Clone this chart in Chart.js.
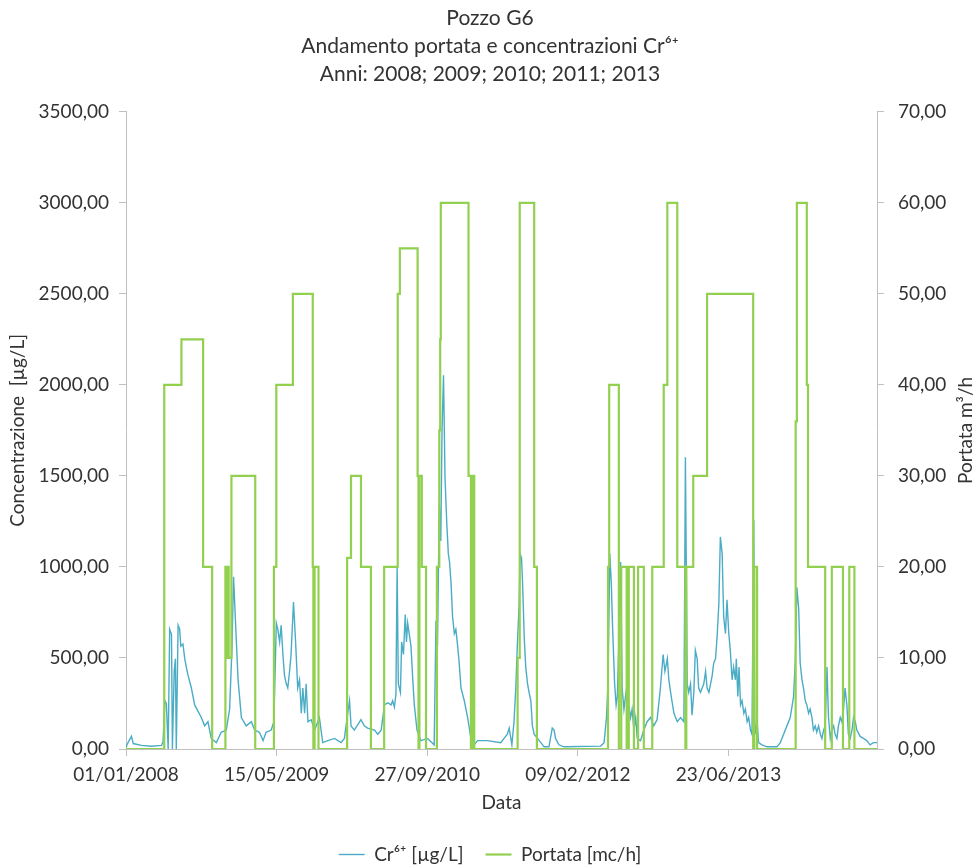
<!DOCTYPE html>
<html>
<head>
<meta charset="utf-8">
<script src="https://cdn.jsdelivr.net/npm/chart.js@4"></script>
<style>
  body { margin: 0; background: #fff; }
</style>
</head>
<body>
<canvas id="chart-g6" width="980" height="866"></canvas>
<script>
// ================== dati =================
// giorni dal 01/01/2008
const crGiorni = [
  0, 2, 18, 24, 51, 84, 118, 123, 129, 134, 140, 145, 151, 154, 160, 164, 167, 173, 178, 182, 189, 195, 203, 206, 217, 228, 250, 261, 272, 283, 300, 316, 333, 344, 352, 357, 364, 372, 383, 399, 416, 427, 443, 455, 465, 482, 491, 499, 504, 510, 515, 521, 526, 532, 537, 543, 548, 556, 563, 570, 576, 582, 587, 593, 598, 604,
  615, 626, 642, 653, 670, 692, 714, 725, 734, 742, 747, 758, 780, 791, 802, 825, 836, 847, 858, 869, 880, 885, 891, 896, 900, 904, 911, 915, 921, 927, 931, 935, 941, 946, 952, 957, 966, 979, 1001, 1023, 1029, 1034, 1040, 1045, 1049, 1054, 1059, 1065, 1070, 1074, 1079, 1084, 1090, 1095, 1101, 1106, 1112, 1123, 1134, 1145, 1156, 1167, 1200, 1244,
  1255, 1266, 1272, 1281, 1288, 1294, 1299, 1305, 1308, 1313, 1317, 1322, 1327, 1333, 1338, 1344, 1349, 1355, 1366, 1377, 1388, 1404, 1415, 1421, 1426, 1437, 1454, 1576, 1587, 1595, 1600, 1606, 1611, 1615, 1622, 1627, 1631, 1636, 1642, 1647, 1653, 1658, 1664, 1669, 1675, 1680, 1686, 1692, 1697, 1708, 1719, 1730, 1741, 1752, 1763, 1774, 1783, 1789, 1797, 1802, 1810, 1819, 1830, 1841, 1852, 1857, 1863, 1868, 1874,
  1879, 1885, 1890, 1896, 1901, 1907, 1918, 1924, 1929, 1935, 1946, 1951, 1957, 1962, 1968, 1973, 1979, 1984, 1990, 1995, 2001, 2006, 2012, 2017, 2023, 2026, 2031, 2035, 2040, 2045, 2051, 2056, 2062, 2067, 2073, 2078, 2084, 2087, 2091, 2095, 2100, 2111, 2128, 2161, 2172, 2183, 2194, 2205, 2216, 2222, 2227, 2233, 2238, 2244, 2249, 2255, 2260, 2266, 2271, 2277, 2282, 2288, 2293, 2299, 2305, 2310, 2316, 2321, 2327, 2332, 2338, 2343, 2349, 2354, 2360, 2365, 2371, 2376, 2382, 2387, 2393, 2398, 2404, 2410, 2415, 2421, 2426, 2437, 2448, 2459, 2470, 2481, 2493
];
// Cr6+ [µg/L]
const crValori = [
  15, 20, 70, 30, 20, 15, 20, 40, 265, 250, 0, 657, 630, 0, 427, 496, 0, 680, 660, 565, 577, 496, 427, 404, 335, 242, 173, 127, 150, 58, 35, 92, 104, 219, 565, 946, 680, 380, 173, 127, 150, 104, 92, 46, 92, 104, 150, 692, 657, 588, 680, 519, 404, 358, 335, 427, 519, 807, 588, 335, 380, 196, 335, 196, 358, 150,
  161, 104, 173, 35, 46, 58, 35, 58, 173, 265, 127, 104, 161, 127, 115, 104, 81, 104, 242, 254, 242, 265, 231, 300, 1003, 358, 311, 588, 519, 738, 588, 692, 623, 565, 380, 242, 104, 46, 58, 23, 704, 565, 1350, 1142, 1742, 2053, 1488, 1234, 1073, 1027, 911, 727, 634, 657, 565, 473, 335, 265, 173, 58, 23, 46, 46, 35,
  58, 81, 115, 23, 150, 335, 565, 796, 1073, 1050, 888, 611, 450, 358, 311, 265, 127, 81, 58, 35, 12, 12, 115, 104, 58, 23, 12, 16, 35, 173, 358, 1073, 911, 680, 358, 242, 288, 588, 1027, 335, 219, 288, 358, 242, 173, 219, 104, 173, 58, 46, 104, 150, 173, 127, 161, 335, 519, 427, 496, 380, 288, 196, 150, 173, 150, 1603, 358, 311, 358,
  185, 311, 542, 496, 335, 311, 358, 427, 335, 311, 404, 473, 496, 611, 796, 1165, 1073, 727, 634, 819, 634, 542, 380, 450, 380, 496, 288, 450, 242, 265, 196, 219, 150, 173, 104, 81, 1257, 150, 81, 150, 35, 23, 12, 12, 35, 81, 127, 173, 288, 496, 888, 773, 473, 380, 335, 265, 242, 196, 219, 173, 104, 127, 92, 127, 81, 58, 104, 127, 450, 173, 58, 104, 127, 81, 58, 127, 173, 150, 219, 335, 242, 81, 58, 104, 173, 150, 104, 69, 58, 46, 23, 35, 35
];

// portata: giorno di inizio di ogni gradino
const portataGiorni = [0, 127, 184, 256, 286, 330, 335, 338, 341, 350, 429, 491, 499, 554, 620, 622, 626, 639, 734, 747, 780, 813, 857, 902, 909, 968, 971, 974, 982, 996, 1032, 1040, 1043, 1045, 1137, 1145, 1147, 1151, 1154, 1156, 1300, 1307, 1355, 1364, 1600, 1604, 1636, 1644, 1662, 1669, 1686, 1700, 1719, 1747, 1785, 1797, 1830, 1857, 1860, 1883, 1929, 2082, 2086, 2095, 2223, 2227, 2260, 2264, 2321, 2343, 2380, 2401, 2418, 2493];
// Portata [mc/h]
const portataValori = [0, 40, 45, 20, 0, 20, 10, 20, 10, 30, 0, 20, 40, 50, 20, 0, 20, 0, 21, 30, 20, 0, 20, 50, 55, 30, 0, 30, 20, 0, 20, 35, 45, 60, 30, 0, 30, 0, 30, 0, 10, 60, 20, 0, 20, 40, 0, 20, 0, 20, 0, 20, 0, 20, 40, 60, 20, 0, 20, 30, 50, 0, 20, 0, 36, 60, 40, 20, 0, 20, 0, 20, 0, 0];

// tacche asse x (giorni) e titolo
const tickGiorni = [0, 500, 1000, 1500, 2000];
const titolo = ["Pozzo G6", "Andamento portata e concentrazioni Cr⁶⁺", "Anni: 2008; 2009; 2010; 2011; 2013"];
const giornoMax = 2493;

// ================== helpers =================
function pad2(n) {
  return n < 10 ? "0" + n : "" + n;
}

function formatData(g) {
  const d = new Date(Date.UTC(2008, 0, 1) + g * 86400000);
  return pad2(d.getUTCDate()) + "/" + pad2(d.getUTCMonth() + 1) + "/" + d.getUTCFullYear();
}

function formatNum(v) {
  return v.toFixed(2).replace(".", ",");
}

const testo = "#333333";
const assi = "#c0c0c0";

// titolo asse destro, letto dal basso verso l'alto
const titoloDestro = {
  id: "titoloDestro",
  afterDraw(chart) {
    const ctx = chart.ctx;
    const area = chart.chartArea;
    ctx.save();
    ctx.translate(966, (area.top + area.bottom) / 2);
    ctx.rotate(-Math.PI / 2);
    ctx.font = "19px Lato";
    ctx.fillStyle = testo;
    ctx.textAlign = "center";
    ctx.textBaseline = "middle";
    ctx.fillText("Portata m³/h", 0, 0);
    ctx.restore();
  },
};

Chart.defaults.font.family = "Lato";
Chart.defaults.font.size = 19;
Chart.defaults.color = testo;

const ctx = document.getElementById("chart-g6").getContext("2d");
new Chart(ctx, {
  type: "line",
  data: {
    datasets: [
      {
        label: "Cr⁶⁺ [µg/L]",
        data: crGiorni.map((g, i) => ({ x: g, y: crValori[i] })),
        borderColor: "#4bacc6",
        backgroundColor: "#4bacc6",
        borderWidth: 1.4,
        pointRadius: 0,
        tension: 0,
        yAxisID: "y",
        order: 1,
      },
      {
        label: "Portata [mc/h]",
        data: portataGiorni.map((g, i) => ({ x: g, y: portataValori[i] })),
        borderColor: "#92d050",
        backgroundColor: "#92d050",
        borderWidth: 2.2,
        pointRadius: 0,
        stepped: "before",
        yAxisID: "y2",
        order: 0,
      },
    ],
  },
  options: {
    responsive: false,
    animation: false,
    devicePixelRatio: 1,
    layout: { padding: { top: 0, left: 0, right: 0, bottom: -8 } },
    plugins: {
      title: {
        display: true,
        text: titolo,
        color: testo,
        font: { size: 21, weight: "normal", lineHeight: 1.33 },
        padding: { top: 4, bottom: 24 },
      },
      legend: {
        position: "bottom",
        labels: {
          usePointStyle: true,
          pointStyle: "line",
          pointStyleWidth: 26,
          padding: 22,
          color: testo,
          sort: (a, b) => a.datasetIndex - b.datasetIndex,
        },
      },
      tooltip: { enabled: false },
    },
    scales: {
      x: {
        type: "linear",
        min: 0,
        max: giornoMax,
        afterFit: (scale) => { scale.height = 74; },
        afterBuildTicks: (scale) => { scale.ticks = tickGiorni.map((v) => ({ value: v })); },
        ticks: {
          maxRotation: 0,
          autoSkip: false,
          padding: 7,
          callback: (v) => formatData(v),
        },
        grid: { drawOnChartArea: false, color: assi, tickLength: 7 },
        border: { color: assi },
        title: { display: true, text: "Data", padding: { top: 0, bottom: 9 } },
      },
      y: {
        position: "left",
        min: 0,
        max: 3500,
        afterFit: (scale) => { scale.width = 126; },
        ticks: { stepSize: 500, padding: 10, callback: (v) => formatNum(v) },
        grid: { drawOnChartArea: false, color: assi, tickLength: 7 },
        border: { color: assi },
        title: { display: true, text: "Concentrazione  [µg/L]", padding: { top: 6, bottom: 0 } },
      },
      y2: {
        position: "right",
        min: 0,
        max: 70,
        afterFit: (scale) => { scale.width = 103; },
        ticks: { stepSize: 10, padding: 14, callback: (v) => formatNum(v) },
        grid: { drawOnChartArea: false, color: assi, tickLength: 7 },
        border: { color: assi },
      },
    },
  },
  plugins: [titoloDestro],
});
</script>
</body>
</html>
